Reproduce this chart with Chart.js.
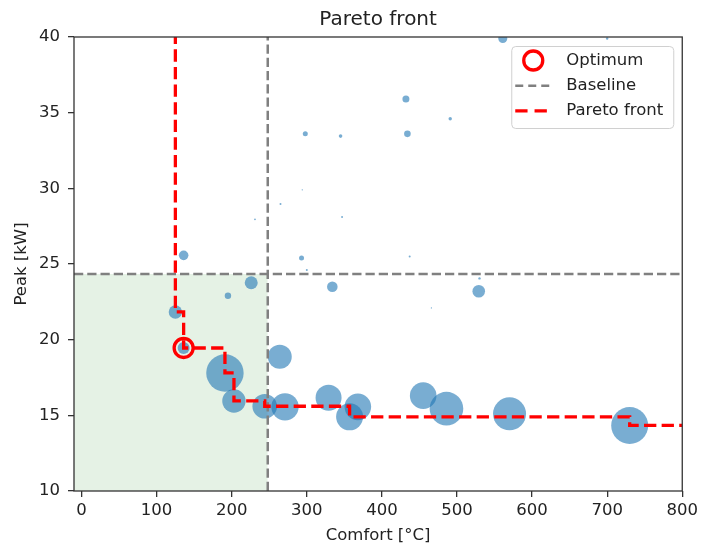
<!DOCTYPE html>
<html>
<head>
<meta charset="utf-8">
<script src="https://cdn.jsdelivr.net/npm/chart.js@4"></script>
<style>
  html, body { margin: 0; padding: 0; background: #fff; }
</style>
</head>
<body>
<canvas id="chart" width="702" height="545"></canvas>
<script>
// ---------- DATA ----------
// All candidate designs: comfort violation vs. peak power, bubble = weight.
const comfort = [298, 345, 294, 265, 231, 347, 136, 293, 300,
  561, 700, 432, 491, 434, 437, 530, 466, 599,
  226, 195, 334, 529,
  125, 136, 264, 191, 203, 244, 271, 329, 368, 357,
  455, 486, 570, 730];
const peak = [33.6, 33.45, 29.9, 28.96, 27.95, 28.1, 25.57, 25.4, 24.6,
  39.9, 39.9, 35.9, 34.6, 33.6, 25.5, 24.05, 22.1, 36.8,
  23.76, 22.9, 23.5, 23.2,
  21.83, 19.45, 18.87, 17.8, 15.95, 15.6, 15.56, 16.16, 15.56, 14.9,
  16.3, 15.44, 15.1, 14.33];
const weight = [2.5, 1.8, 0.7, 1, 0.9, 1, 4.8, 2.5, 1,
  4.5, 1.2, 3.5, 1.7, 3.3, 1, 1.2, 0.7, 1,
  6.5, 3.2, 5.3, 6.3,
  6.7, 6, 12, 18.7, 11.7, 12.3, 13.7, 13, 13.3, 13.5,
  13.3, 16.8, 16.5, 18.5];

// Pareto front (step line), first point sits above the axis top
const paretoComfort = [125, 125, 136, 191, 203, 244, 357, 730, 800];
const paretoPeak = [45, 21.83, 19.45, 17.8, 15.95, 15.6, 14.9, 14.33, 14.33];

const optimumComfort = 136;
const optimumPeak = 19.45;

const baselineComfort = 248;
const baselinePeak = 24.34;

const xRange = [-10, 800];
const yRange = [10, 40];
const xTicks = [0, 100, 200, 300, 400, 500, 600, 700, 800];
const yTicks = [10, 15, 20, 25, 30, 35, 40];

// ---------- STYLE ----------
const FONT = "'DejaVu Sans', sans-serif";
const INK = "#222";
const BUBBLE_SCALE = 1;

const bubbles = comfort.map((c, i) => ({ x: c, y: peak[i], r: weight[i] * BUBBLE_SCALE }));
const pareto = paretoComfort.map((c, i) => ({ x: c, y: paretoPeak[i] }));

// frame around the plot (matplotlib draws all four spines)
const framePlugin = {
  id: "frame",
  afterDatasetsDraw(chart) {
    const { ctx, chartArea: a } = chart;
    ctx.save();
    ctx.strokeStyle = "#333";
    ctx.lineWidth = 1.3;
    ctx.strokeRect(a.left, a.top, a.right - a.left, a.bottom - a.top);
    ctx.restore();
  }
};

// legend box in the upper-right corner, drawn like matplotlib's
const legendPlugin = {
  id: "boxLegend",
  afterDraw(chart) {
    const { ctx, chartArea: a } = chart;
    const w = 162, h = 82;
    const x0 = a.right - 9 - w, y0 = a.top + 9;
    ctx.save();
    ctx.beginPath();
    ctx.roundRect(x0 + 0.5, y0 + 0.5, w, h, 4);
    ctx.fillStyle = "rgba(255,255,255,0.85)";
    ctx.fill();
    ctx.strokeStyle = "#d0d0d0";
    ctx.lineWidth = 1;
    ctx.stroke();

    const rows = [y0 + 14.5, y0 + 39.8, y0 + 64.8];
    const sx0 = x0 + 4, sx1 = x0 + 40, tx = x0 + 55;

    // Optimum ring
    ctx.beginPath();
    ctx.arc((sx0 + sx1) / 2, rows[0], 9.5, 0, Math.PI * 2);
    ctx.strokeStyle = "#ff0000";
    ctx.lineWidth = 3.3;
    ctx.stroke();

    // Baseline
    ctx.beginPath();
    ctx.setLineDash([8, 5]);
    ctx.moveTo(sx0, rows[1]);
    ctx.lineTo(sx1, rows[1]);
    ctx.strokeStyle = "gray";
    ctx.lineWidth = 2.5;
    ctx.stroke();

    // Pareto front
    ctx.beginPath();
    ctx.setLineDash([12.3, 7]);
    ctx.moveTo(sx0, rows[2]);
    ctx.lineTo(sx1, rows[2]);
    ctx.strokeStyle = "#ff0000";
    ctx.lineWidth = 3.3;
    ctx.stroke();
    ctx.setLineDash([]);

    ctx.fillStyle = INK;
    ctx.font = "16.5px " + FONT;
    ctx.textBaseline = "middle";
    ctx.textAlign = "left";
    ctx.fillText("Optimum", tx, rows[0]);
    ctx.fillText("Baseline", tx, rows[1]);
    ctx.fillText("Pareto front", tx, rows[2]);
    ctx.restore();
  }
};

new Chart(document.getElementById("chart"), {
  type: "scatter",
  data: {
    datasets: [
      {
        // feasible region below both baselines
        type: "line",
        data: [{ x: xRange[0], y: baselinePeak }, { x: baselineComfort, y: baselinePeak }],
        fill: "start",
        backgroundColor: "rgba(0,128,0,0.1)",
        borderWidth: 0,
        pointRadius: 0,
        clip: 0,
        order: 6
      },
      {
        type: "bubble",
        label: "Designs",
        data: bubbles,
        backgroundColor: "rgba(31,119,180,0.6)",
        borderWidth: 0,
        hoverRadius: 0,
        clip: 0,
        order: 5
      },
      {
        type: "line",
        label: "Baseline",
        data: [{ x: xRange[0], y: baselinePeak }, { x: xRange[1], y: baselinePeak }],
        borderColor: "gray",
        borderWidth: 2.5,
        borderDash: [9.25, 4],
        pointRadius: 0,
        fill: false,
        clip: 0,
        order: 4
      },
      {
        type: "line",
        label: "Baseline",
        data: [{ x: baselineComfort, y: yRange[0] }, { x: baselineComfort, y: yRange[1] }],
        borderColor: "gray",
        borderWidth: 2.5,
        borderDash: [9.25, 4],
        pointRadius: 0,
        fill: false,
        clip: 0,
        order: 3
      },
      {
        type: "line",
        label: "Pareto front",
        data: pareto,
        stepped: "before",
        borderColor: "#ff0000",
        borderWidth: 3.3,
        borderDash: [12.3, 5.3],
        pointRadius: 0,
        fill: false,
        clip: 0,
        order: 2
      },
      {
        type: "scatter",
        label: "Optimum",
        data: [{ x: optimumComfort, y: optimumPeak }],
        pointStyle: "circle",
        pointRadius: 9.5,
        pointBorderWidth: 3.3,
        pointBorderColor: "#ff0000",
        pointBackgroundColor: "rgba(0,0,0,0)",
        clip: 0,
        order: 1
      }
    ]
  },
  options: {
    responsive: false,
    animation: false,
    devicePixelRatio: 1,
    events: [],
    layout: { padding: { left: 0, right: 18, top: 0, bottom: 0 } },
    plugins: {
      legend: { display: false },
      tooltip: { enabled: false },
      title: {
        display: true,
        text: "Pareto front",
        fullSize: false,
        color: INK,
        font: { family: FONT, size: 20, weight: "normal" },
        padding: { top: 8, bottom: 5 }
      }
    },
    scales: {
      x: {
        type: "linear",
        min: xRange[0],
        max: xRange[1],
        afterBuildTicks: s => { s.ticks = xTicks.map(v => ({ value: v })); },
        afterFit: s => { s.height = 54; },
        border: { display: false },
        grid: { drawOnChartArea: false, drawTicks: true, tickLength: 6, color: "#333", lineWidth: 1.3 },
        ticks: { padding: 4, color: INK, font: { family: FONT, size: 16.5 }, maxRotation: 0, autoSkip: false },
        title: { display: true, text: "Comfort [°C]", color: INK, font: { family: FONT, size: 16.5 }, padding: { top: 0, bottom: -1 } }
      },
      y: {
        type: "linear",
        min: yRange[0],
        max: yRange[1],
        afterBuildTicks: s => { s.ticks = yTicks.map(v => ({ value: v })); },
        afterFit: s => { s.width = 74; },
        border: { display: false },
        grid: { drawOnChartArea: false, drawTicks: true, tickLength: 6, color: "#333", lineWidth: 1.3 },
        ticks: { padding: 8, color: INK, font: { family: FONT, size: 16.5 }, autoSkip: false },
        title: { display: true, text: "Peak [kW]", color: INK, font: { family: FONT, size: 16.5 }, padding: { top: 11.5, bottom: 0 } }
      }
    }
  },
  plugins: [framePlugin, legendPlugin]
});
</script>
</body>
</html>
